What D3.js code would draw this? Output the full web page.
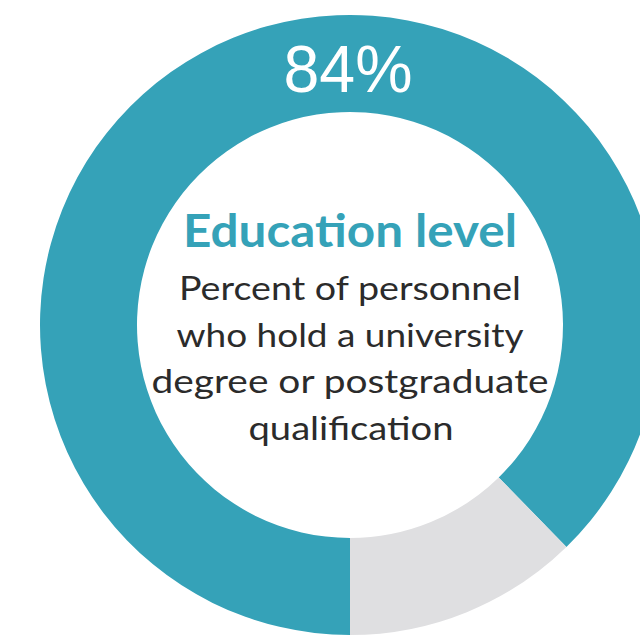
<!DOCTYPE html>
<html>
<head>
<meta charset="utf-8">
<script src="https://cdn.jsdelivr.net/npm/d3@7"></script>
<style>
  html, body { margin: 0; padding: 0; background: #ffffff; overflow: hidden; }
  svg { display: block; }
</style>
</head>
<body>
<svg id="chart" width="640" height="638"></svg>
<script>
// ---- data ----
const segments = ["Degree holders", "Other"];
const segmentShares = [87.7, 12.3];          // as drawn in the ring
const headlineValue = ["84%"];
const titleLines = ["Education level"];
const bodyLines = ["Percent of personnel", "who hold a university", "degree or postgraduate", "qualification"];
const segmentColors = ["#35a2b8", "#dfdfe1"];

// ---- layout ----
const cx = 350, cy = 325;
const outerR = 310, innerR = 213;

const svg = d3.select("#chart");
const g = svg.append("g").attr("transform", `translate(${cx},${cy})`);

const color = d3.scaleOrdinal().domain(segments).range(segmentColors);

const pie = d3.pie()
  .sort(null)
  .startAngle(Math.PI)
  .endAngle(3 * Math.PI)
  .value(d => d.value);

const data = segments.map((s, i) => ({ name: s, value: segmentShares[i] }));
const arc = d3.arc().innerRadius(innerR).outerRadius(outerR);

g.selectAll("path.slice")
  .data(pie(data))
  .join("path")
  .attr("class", "slice")
  .attr("d", arc)
  .attr("fill", d => color(d.data.name));

// headline value on the ring
g.append("text")
  .text(headlineValue[0])
  .attr("x", -2)
  .attr("y", 92 - cy)
  .attr("text-anchor", "middle")
  .attr("font-family", "'Liberation Sans', Arial, sans-serif")
  .attr("font-size", 66)
  .attr("textLength", 129)
  .attr("lengthAdjust", "spacingAndGlyphs")
  .attr("fill", "#ffffff");

// title
g.append("text")
  .text(titleLines[0])
  .attr("x", 0)
  .attr("y", 247 - cy)
  .attr("text-anchor", "middle")
  .attr("font-family", "Lato, sans-serif")
  .attr("font-weight", 700)
  .attr("font-size", 46)
  .attr("textLength", 334)
  .attr("lengthAdjust", "spacingAndGlyphs")
  .attr("fill", "#35a2b8");

// body
const bodyBaselines = [300, 346.5, 393, 439.5];
const bodyWidths = [342, 347, 397, 205];
g.selectAll("text.body")
  .data(bodyLines)
  .join("text")
  .attr("class", "body")
  .text(d => d)
  .attr("x", (d, i) => i === 3 ? 1 : 0)
  .attr("y", (d, i) => bodyBaselines[i] - cy)
  .attr("text-anchor", "middle")
  .attr("font-family", "Lato, sans-serif")
  .attr("font-size", 32)
  .attr("textLength", (d, i) => bodyWidths[i])
  .attr("lengthAdjust", "spacingAndGlyphs")
  .attr("fill", "#2b2b2b");
</script>
</body>
</html>
